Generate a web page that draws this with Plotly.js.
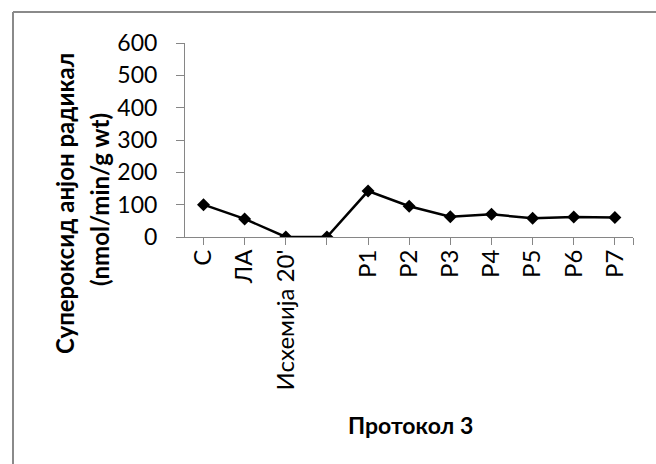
<!DOCTYPE html>
<html>
<head>
<meta charset="utf-8">
<script src="https://cdn.plot.ly/plotly-3.0.1.min.js"></script>
<style>html,body{margin:0;padding:0;background:#fff;}</style>
</head>
<body>
<div id="chart" style="width:656px;height:464px;"></div>
<script>
const categories = ["С", "ЛА", "Исхемија 20'", "", "Р1", "Р2", "Р3", "Р4", "Р5", "Р6", "Р7"];
const values = [100, 56, 0, 0, 142, 95, 63, 70, 58, 62, 60];
const yTicks = [0, 100, 200, 300, 400, 500, 600];
const yTitleLines = ["Супероксид анјон радикал", "(nmol/min/g wt)"];
const xTitle = "Протокол 3";
const xIndex = categories.map((c, i) => i);

const W = 656, H = 464, L = 185, R = 23, T = 43, B = 227;
const pw = W - L - R, ph = H - T - B;
const px = v => (v - L) / pw;
const py = v => (H - B - v) / ph;

const trace = {
  x: xIndex,
  y: values,
  type: 'scatter',
  mode: 'lines+markers',
  line: {color: '#000000', width: 2.5},
  marker: {symbol: 'diamond', size: 10, color: '#000000'},
  hoverinfo: 'none',
  showlegend: false
};

const font = "Lato, 'Open Sans', sans-serif";
const titleFont = {family: font, size: 24, color: '#000000', weight: 'bold'};
const layout = {
  width: W, height: H,
  margin: {l: L, r: R, t: T, b: B, pad: 0},
  paper_bgcolor: '#ffffff', plot_bgcolor: '#ffffff',
  font: {family: font, size: 22, color: '#000000'},
  xaxis: {
    range: [-0.45, 10.44],
    tickmode: 'array',
    tickvals: xIndex.concat([10.44]),
    ticktext: categories.concat(['']),
    tickangle: -90,
    ticks: 'outside', ticklen: 7, tickcolor: '#868686', tickwidth: 1,
    showline: true, linecolor: '#868686', linewidth: 1,
    showgrid: false, zeroline: false,
    ticklabelstandoff: -5,
    tickfont: {family: font, size: 24, color: '#000000'}
  },
  yaxis: {
    range: [0, 600],
    tickmode: 'array',
    tickvals: yTicks,
    ticktext: yTicks.map(String),
    ticks: 'outside', ticklen: 8, tickcolor: '#868686', tickwidth: 1,
    showline: true, linecolor: '#868686', linewidth: 1,
    showgrid: false, zeroline: false,
    ticklabelstandoff: 14,
    tickfont: {family: font, size: 23, color: '#000000'}
  },
  annotations: [
    {text: yTitleLines[0], xref: 'paper', yref: 'paper', x: px(64), y: py(204), xanchor: 'center', yanchor: 'middle', textangle: -90, showarrow: false, font: titleFont},
    {text: yTitleLines[1], xref: 'paper', yref: 'paper', x: px(99), y: py(200), xanchor: 'center', yanchor: 'middle', textangle: -90, showarrow: false, font: titleFont},
    {text: xTitle, xref: 'paper', yref: 'paper', x: px(410), y: py(425), xanchor: 'center', yanchor: 'middle', showarrow: false, font: {family: font, size: 23, color: '#000000', weight: 'bold'}}
  ],
  shapes: [
    {type: 'line', xref: 'paper', yref: 'paper', x0: px(13), x1: px(700), y0: py(12), y1: py(12), line: {color: '#8a8a8a', width: 2}},
    {type: 'line', xref: 'paper', yref: 'paper', x0: px(13), x1: px(13), y0: py(12), y1: py(700), line: {color: '#8a8a8a', width: 2}}
  ]
};

Plotly.newPlot('chart', [trace], layout, {staticPlot: true, displayModeBar: false});
</script>
</body>
</html>
